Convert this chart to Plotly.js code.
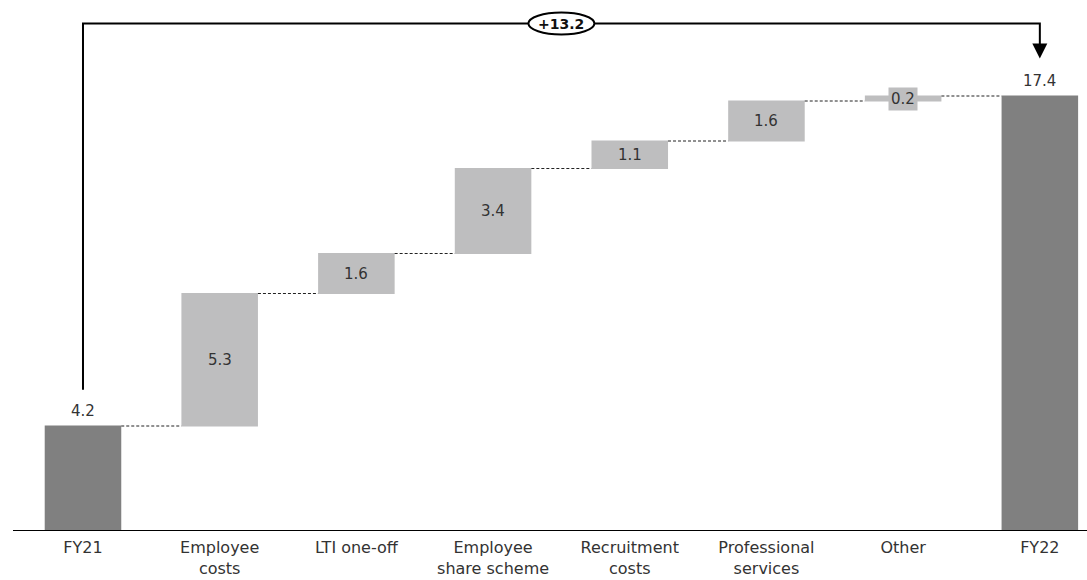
<!DOCTYPE html>
<html>
<head>
<meta charset="utf-8">
<script src="https://cdn.plot.ly/plotly-3.0.1.min.js"></script>
<style>
  html, body { margin: 0; padding: 0; background: #ffffff; }
  #chart { width: 1087px; height: 580px; }
</style>
</head>
<body>
<div id="chart"></div>
<script>
// Cost bridge FY21 -> FY22
const categories = ["FY21", "Employee<br>costs", "LTI one-off", "Employee<br>share scheme",
                    "Recruitment<br>costs", "Professional<br>services", "Other", "FY22"];
const values = [4.2, 5.3, 1.6, 3.4, 1.1, 1.6, 0.2, 17.4];
const measures = ["absolute", "relative", "relative", "relative", "relative", "relative", "relative", "total"];
const changeLabel = "+13.2";

const totalColor = "#808080";
const stepColor = "#bebebf";
const textColor = "#333333";
const fontFamily = "'DejaVu Sans', 'Noto Sans', sans-serif";

// Positions along the category axis
const xs = categories.map((_, i) => i);

// Running totals give each step's base and top
const bases = [], tops = [];
let run = 0;
values.forEach((v, i) => {
  if (measures[i] === "absolute" || measures[i] === "total") {
    bases.push(0); tops.push(v); run = v;
  } else {
    bases.push(run); run += v; tops.push(run);
  }
});

const trace = {
  type: "waterfall",
  x: xs,
  y: values,
  measure: measures,
  width: 0.56,
  textinfo: "none",
  hoverinfo: "skip",
  increasing: { marker: { color: stepColor } },
  decreasing: { marker: { color: stepColor } },
  totals: { marker: { color: totalColor } },
  connector: { line: { color: "#222222", width: 1, dash: "3px,2px" } }
};

// Value labels: totals above the bar, steps centred on the bar
const annotations = values.map((v, i) => {
  const isTotal = measures[i] !== "relative";
  return {
    x: xs[i],
    y: isTotal ? tops[i] : (bases[i] + tops[i]) / 2,
    xref: "x", yref: "y",
    text: v.toFixed(1),
    showarrow: false,
    yanchor: isTotal ? "bottom" : "middle",
    yshift: isTotal ? 3 : 0,
    bgcolor: isTotal ? "rgba(0,0,0,0)" : stepColor,
    borderpad: 2,
    font: { family: fontFamily, size: 15, color: textColor }
  };
});

// Overall change bracket from the first total to the last
const first = 0, last = values.length - 1;
const bracketTop = 20.3;
const startY = tops[first] + 1.45;
const tipY = tops[last] + 1.5;
const midX = (xs[first] + xs[last]) / 2;

const shapes = [
  {
    type: "path", xref: "x", yref: "y",
    path: `M ${xs[first]},${startY} V ${bracketTop} H ${xs[last]} V ${tipY + 0.3}`,
    line: { color: "#000000", width: 2 }
  },
  {
    type: "circle", xref: "x", yref: "y",
    xsizemode: "pixel", ysizemode: "pixel",
    xanchor: midX, yanchor: bracketTop,
    x0: -33, x1: 33, y0: -11, y1: 11,
    fillcolor: "#ffffff",
    line: { color: "#000000", width: 2 }
  }
];

annotations.push({
  x: xs[last], y: tipY, xref: "x", yref: "y",
  ax: xs[last], ay: tipY + 0.6, axref: "x", ayref: "y",
  text: "", showarrow: true,
  arrowhead: 2, arrowsize: 1.5, arrowwidth: 2, arrowcolor: "#000000",
  standoff: 0
});
annotations.push({
  x: midX, y: bracketTop, xref: "x", yref: "y",
  text: "<b>" + changeLabel + "</b>",
  showarrow: false,
  font: { family: fontFamily, size: 14, color: "#111111" }
});

const layout = {
  width: 1087, height: 580,
  margin: { l: 13, r: 0, t: 10, b: 49 },
  paper_bgcolor: "#ffffff",
  plot_bgcolor: "#ffffff",
  showlegend: false,
  xaxis: {
    range: [-0.512, 7.345],
    tickmode: "array",
    tickvals: xs,
    ticktext: categories,
    ticks: "",
    ticklabelstandoff: 5,
    showgrid: false,
    zeroline: false,
    showline: false,
    fixedrange: true,
    tickfont: { family: fontFamily, size: 16, color: textColor }
  },
  yaxis: {
    range: [0, 20.84],
    visible: false,
    showgrid: false,
    zeroline: true,
    fixedrange: true
  },
  shapes: shapes.concat([{
    type: "line", xref: "paper", yref: "y",
    x0: 0, x1: 1, y0: 0, y1: 0,
    line: { color: "#000000", width: 2 }
  }]),
  annotations: annotations
};

Plotly.newPlot("chart", [trace], layout, { displayModeBar: false, staticPlot: true });
</script>
</body>
</html>
